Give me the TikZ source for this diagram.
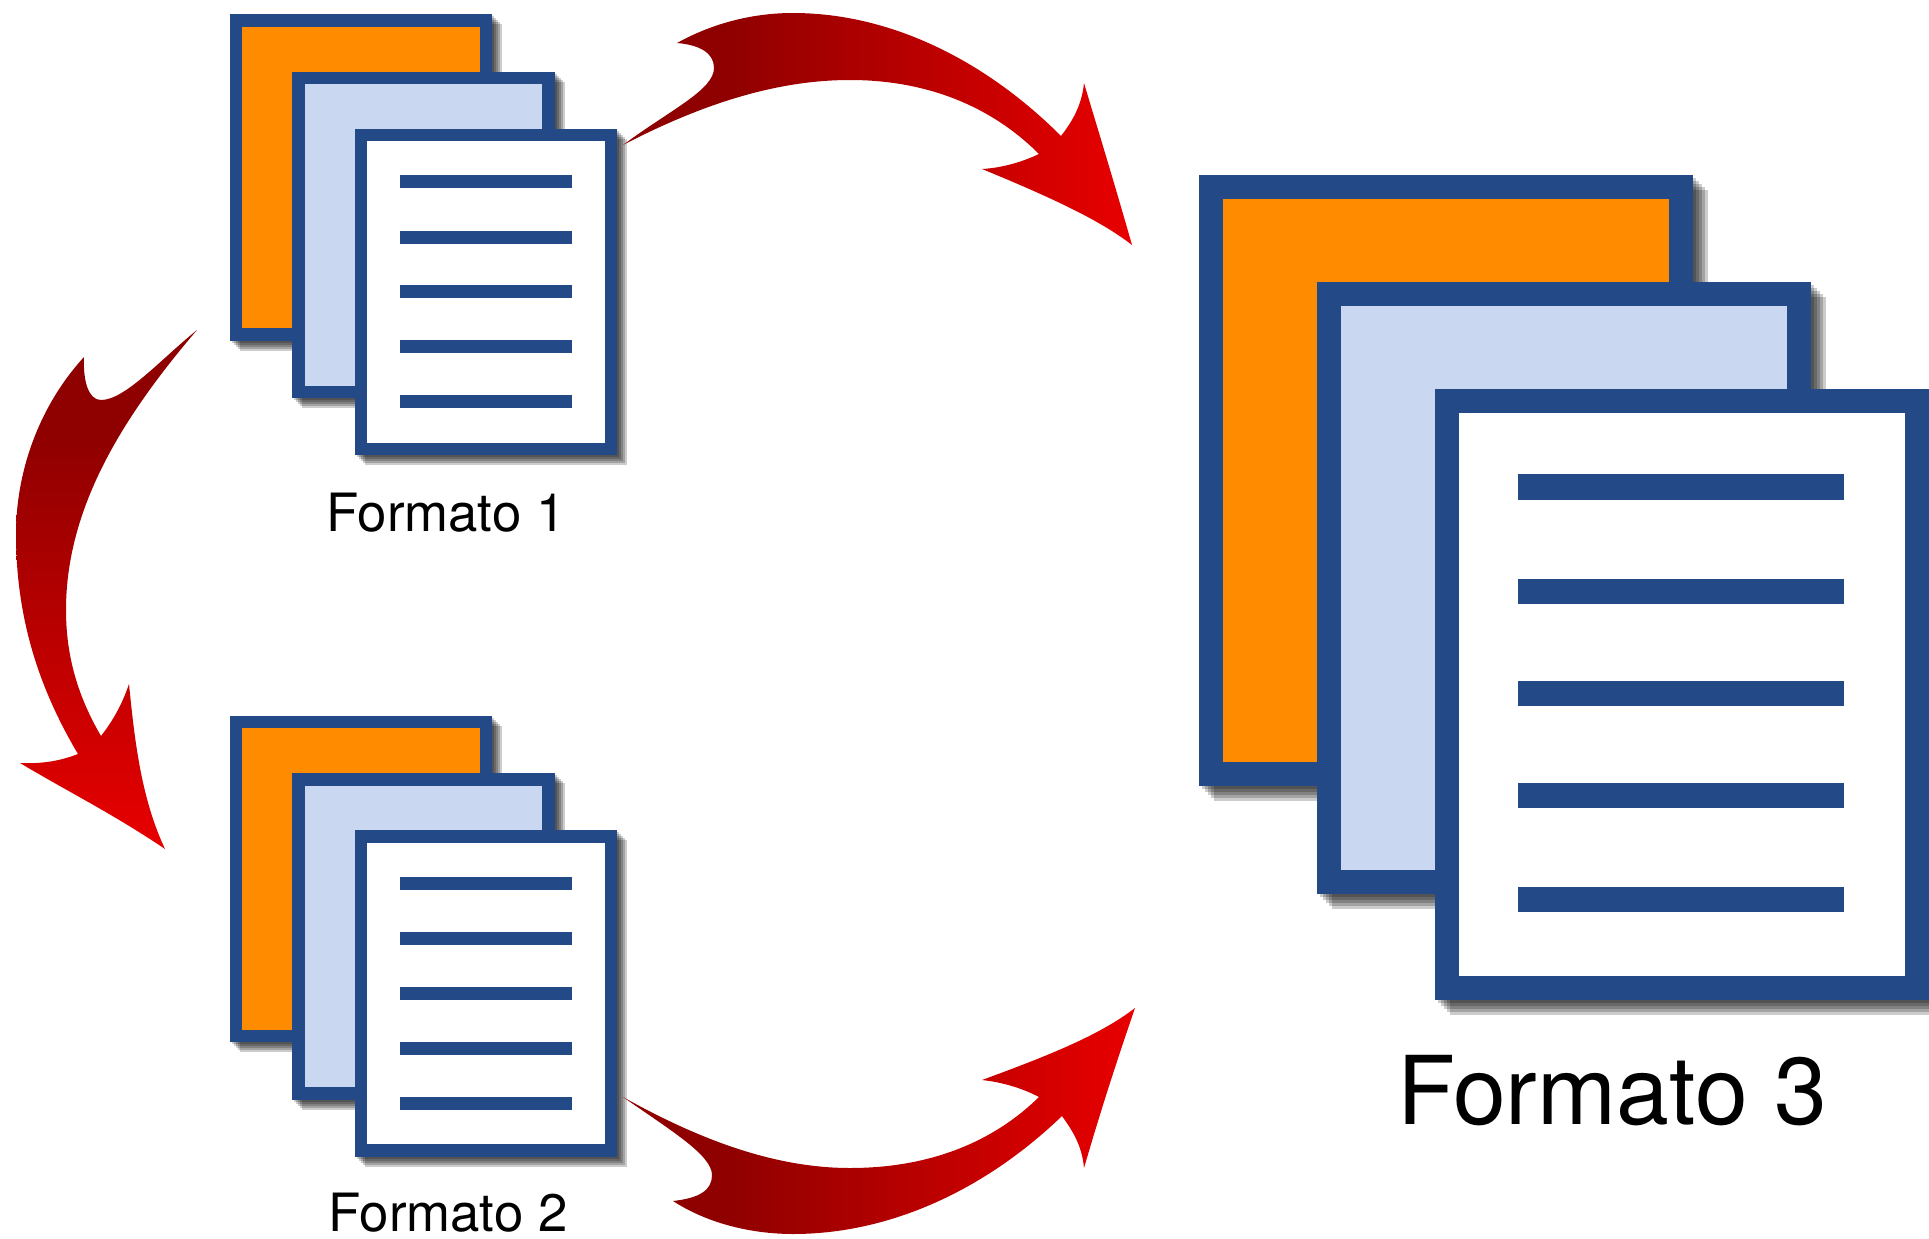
\documentclass[tikz,border=0pt]{standalone}
\usepackage{fontspec}
\setmainfont{TeX Gyre Heros}
\usetikzlibrary{shadows}
\definecolor{docblue}{HTML}{234A87}
\definecolor{docorange}{HTML}{FF8C00}
\definecolor{docpale}{HTML}{C9D8F0}
\definecolor{arrowdark}{HTML}{8F0000}
\definecolor{arrowred}{HTML}{E80000}
\pgfdeclarehorizontalshading{redarrow}{100bp}{color(0bp)=(arrowdark); color(35bp)=(arrowdark); color(75bp)=(arrowred); color(100bp)=(arrowred)}
\tikzset{
    shadowstep/.style = {general shadow={draw=black,fill=none,opacity=.2,shadow xshift=#1,shadow yshift=-#1}},
    softshadow/.style = {shadowstep=.02cm,shadowstep=.04cm,shadowstep=.06cm,shadowstep=.08cm,shadowstep=.1cm},
    bigshadow/.style = {shadowstep=.03cm,shadowstep=.06cm,shadowstep=.09cm,shadowstep=.12cm,shadowstep=.15cm},
    sheet/.style = {draw=docblue, rectangle, line width=.125cm, inner sep=0pt, outer sep=0pt,
        minimum width=2.5cm, minimum height=3.14cm, softshadow},
    bigsheet/.style = {draw=docblue, rectangle, line width=.24cm, inner sep=0pt, outer sep=0pt,
        minimum width=4.7cm, minimum height=5.87cm, bigshadow},
    textline/.style = {fill=docblue, rectangle, inner sep=0pt, outer sep=0pt,
        minimum width=1.72cm, minimum height=.13cm},
    bigtextline/.style = {fill=docblue, rectangle, inner sep=0pt, outer sep=0pt,
        minimum width=3.25cm, minimum height=.25cm},
    caption/.style = {anchor=base, inner sep=0pt, font=\fontsize{15}{18}\selectfont},
    bigcaption/.style = {anchor=base, inner sep=0pt, font=\fontsize{27}{32}\selectfont},
    arcarrow/.style = {shading=redarrow}
}
\begin{document}
\begin{tikzpicture}[x=.01cm,y=-.01cm]
    \useasboundingbox (0,0) rectangle (1929,1239);
    % first set
    \node[sheet,fill=docorange] (or1) at (361,177.5) {};
    \node[sheet,fill=docpale] (pa1) at (423.5,235) {};
    \node[sheet,fill=white] (wh1) at (486,292) {};
    \node[textline] (l11) at (486,181) {};
    \node[textline] (l12) at (486,237) {};
    \node[textline] (l13) at (486,291) {};
    \node[textline] (l14) at (486,346) {};
    \node[textline] (l15) at (486,401) {};
    \node[caption] (cap1) at (446,531) {Formato 1};
    % second set
    \node[sheet,fill=docorange] (or2) at (361,879) {};
    \node[sheet,fill=docpale] (pa2) at (423.5,936.5) {};
    \node[sheet,fill=white] (wh2) at (486,993.5) {};
    \node[textline] (l21) at (486,883) {};
    \node[textline] (l22) at (486,938) {};
    \node[textline] (l23) at (486,993) {};
    \node[textline] (l24) at (486,1048) {};
    \node[textline] (l25) at (486,1103) {};
    \node[caption] (cap2) at (448,1231) {Formato 2};
    % big set
    \node[bigsheet,fill=docorange] (or3) at (1446,480.5) {};
    \node[bigsheet,fill=docpale] (pa3) at (1564,588) {};
    \node[bigsheet,fill=white] (wh3) at (1682,694.5) {};
    \node[bigtextline] (l31) at (1681,487) {};
    \node[bigtextline] (l32) at (1681,591) {};
    \node[bigtextline] (l33) at (1681,693) {};
    \node[bigtextline] (l34) at (1681,795) {};
    \node[bigtextline] (l35) at (1681,899) {};
    \node[bigcaption] (cap3) at (1612,1124) {Formato 3};
    % arrows
    \path[arcarrow] (623,145) .. controls (700,105) and (775,80) .. (850,80)
        .. controls (925,80) and (990,105) .. (1039,154)
        .. controls (1020,163) and (1000,168) .. (982,169)
        .. controls (1050,197) and (1100,220) .. (1132,245)
        .. controls (1112,175) and (1098,130) .. (1084,83)
        .. controls (1082,105) and (1072,122) .. (1061,136)
        .. controls (985,60) and (890,13) .. (793,13)
        .. controls (755,13) and (715,22) .. (677,43)
        .. controls (700,45) and (714,53) .. (714,68)
        .. controls (714,90) and (670,110) .. (623,145) -- cycle;
    \path[arcarrow] (623,1097) .. controls (700,1140) and (775,1168) .. (850,1168)
        .. controls (925,1168) and (990,1145) .. (1039,1097)
        .. controls (1020,1087) and (1000,1082) .. (982,1080)
        .. controls (1050,1055) and (1100,1035) .. (1135,1008)
        .. controls (1112,1075) and (1098,1120) .. (1084,1168)
        .. controls (1082,1145) and (1072,1130) .. (1062,1116)
        .. controls (985,1190) and (890,1234) .. (793,1234)
        .. controls (755,1234) and (710,1225) .. (673,1201)
        .. controls (700,1198) and (712,1190) .. (712,1175)
        .. controls (712,1155) and (670,1130) .. (623,1097) -- cycle;
    \path[arcarrow,shading angle=-90] (197,330) .. controls (120,420) and (66,510) .. (66,610)
        .. controls (66,660) and (80,700) .. (101,736)
        .. controls (112,722) and (122,705) .. (129,684)
        .. controls (135,745) and (142,800) .. (165,849)
        .. controls (115,815) and (65,790) .. (20,763)
        .. controls (42,764) and (60,761) .. (78,754)
        .. controls (40,690) and (16,620) .. (16,534)
        .. controls (16,470) and (40,405) .. (84,357)
        .. controls (83,380) and (88,400) .. (101,400)
        .. controls (125,400) and (160,360) .. (197,330) -- cycle;
\end{tikzpicture}
\end{document}
